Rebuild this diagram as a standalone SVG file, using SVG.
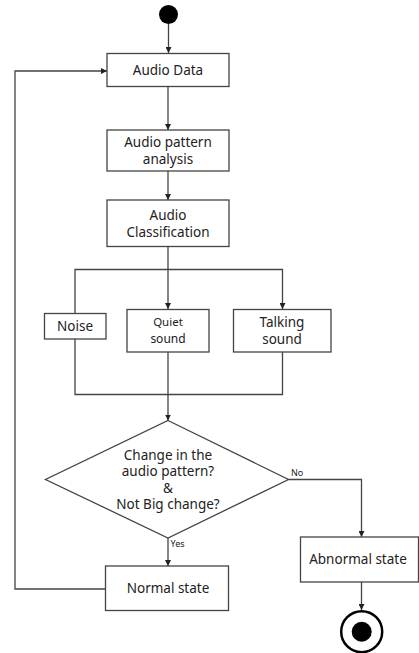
<svg xmlns="http://www.w3.org/2000/svg" width="419" height="653" viewBox="0 0 419 653">
<style>
.box{fill:#fff;stroke:#444;stroke-width:1.3}
.t{font-family:"Noto Sans","Liberation Sans",sans-serif;font-size:13.5px;fill:#222;text-anchor:middle}
.s{font-family:"Noto Sans","Liberation Sans",sans-serif;font-size:9px;fill:#222}
.c{fill:none;stroke:#444;stroke-width:1.3}
</style>
<defs>
<marker id="ah" viewBox="0 0 8 8" refX="8" refY="4" markerWidth="6" markerHeight="6" markerUnits="userSpaceOnUse" orient="auto">
<path d="M0,0 L8,4 L0,8 Z" fill="#222"/>
</marker>
</defs>
<rect width="419" height="653" fill="#fff"/>
<g id="connectors">
<path class="c" d="M168.5,24 V53" marker-end="url(#ah)"/>
<path class="c" d="M168,87 V130" marker-end="url(#ah)"/>
<path class="c" d="M168,171 V200" marker-end="url(#ah)"/>
<path class="c" d="M168,247 V309" marker-end="url(#ah)"/>
<path class="c" d="M75,313 V269.5 H282.5 V309" marker-end="url(#ah)"/>
<path class="c" d="M75,339 V394.5 H282.5 V352"/>
<path class="c" d="M168,352 V420.5" marker-end="url(#ah)"/>
<path class="c" d="M288.5,479.5 H361.5 V537" marker-end="url(#ah)"/>
<path class="c" d="M168,538 V566" marker-end="url(#ah)"/>
<path class="c" d="M105,589 H15 V71 H107" marker-end="url(#ah)"/>
<path class="c" d="M361.5,582 V610" marker-end="url(#ah)"/>
<text class="s" x="291" y="476">No</text>
<text class="s" x="170.5" y="547">Yes</text>
</g>
<g id="start"><circle cx="168.5" cy="14.5" r="9.5" fill="#000"/></g>
<g id="audio-data"><rect class="box" x="107" y="53.5" width="122" height="33"/><text class="t" x="168" y="75">Audio Data</text></g>
<g id="pattern-analysis"><rect class="box" x="107" y="130" width="122" height="41"/><text class="t" x="168" y="147">Audio pattern</text><text class="t" x="168" y="164">analysis</text></g>
<g id="classification"><rect class="box" x="107" y="200" width="122" height="46.5"/><text class="t" x="168" y="220">Audio</text><text class="t" x="168" y="237">Classification</text></g>
<g id="noise"><rect class="box" x="44.5" y="313.5" width="61.5" height="25.5"/><text class="t" x="75" y="331">Noise</text></g>
<g id="quiet"><rect class="box" x="127" y="309.5" width="82" height="42.5"/><text class="t" x="168" y="326" style="font-size:11.5px">Quiet</text><text class="t" x="168" y="343" style="font-size:12px">sound</text></g>
<g id="talking"><rect class="box" x="233.5" y="309.5" width="97.5" height="42.5"/><text class="t" x="282" y="327">Talking</text><text class="t" x="282" y="344">sound</text></g>
<g id="decision"><path class="box" d="M168,420.5 L288.5,479.5 L168,538 L45.5,479.5 Z"/>
<text class="t" x="168" y="459.5">Change in the</text>
<text class="t" x="168" y="476">audio pattern?</text>
<text class="t" x="168" y="492.5">&amp;</text>
<text class="t" x="168" y="509">Not Big change?</text></g>
<g id="normal"><rect class="box" x="105.5" y="566" width="123" height="44.5"/><text class="t" x="168" y="593">Normal state</text></g>
<g id="abnormal"><rect class="box" x="300.5" y="537" width="118" height="45"/><text class="t" x="358" y="564">Abnormal state</text></g>
<g id="end"><circle cx="361.7" cy="631.7" r="20.5" fill="#fff" stroke="#000" stroke-width="2.5"/><circle cx="361.7" cy="631.7" r="10" fill="#000"/></g>
</svg>
